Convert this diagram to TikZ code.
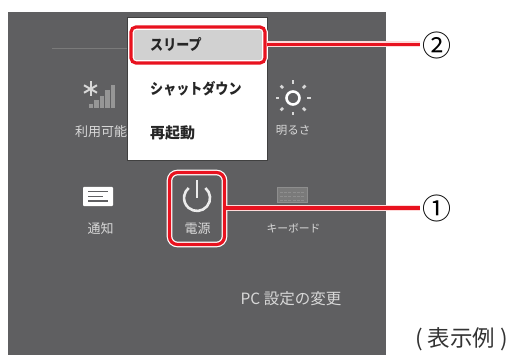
\documentclass[tikz,border=0pt]{standalone}
\usepackage{fontspec}
\setmainfont{Noto Sans CJK JP}
\definecolor{panel}{HTML}{5F5F61}
\definecolor{redc}{HTML}{E8121F}
\definecolor{soft}{HTML}{D8D8D8}
\definecolor{dimkey}{HTML}{7A7A7A}
\definecolor{dimedge}{HTML}{8E8E8E}
\definecolor{dimbar}{HTML}{969696}
\newcommand{\narrowtxt}[1]{\scalebox{0.87}[1]{#1}}
\tikzset{
  lab/.style={text=soft,font=\fontsize{13}{13}\selectfont,inner sep=0pt},
  menutxt/.style={text=black!85,font=\fontsize{15}{15}\selectfont\bfseries,inner sep=0pt,anchor=west},
  callout/.style={draw=redc,line width=3.2pt,rounded corners=5pt,inner sep=0pt,preaction={draw=white,line width=5.6pt}},
  calloutline/.style={redc,line width=3.2pt,preaction={draw=red!15,line width=6pt}},
  numtxt/.style={text=black,font=\fontsize{29}{29}\selectfont,inner sep=0pt},
}
\begin{document}
\begin{tikzpicture}[x=1pt,y=-1pt]
\useasboundingbox (0,0) rectangle (513,355);
\fill[panel] (8,12) rectangle (386,355);
\draw[dimkey,line width=0.5pt] (52,48) -- (127,48);
% signal icon
\coordinate (star) at (90.5,89);
\foreach \a in {30,90,150}{\draw[soft,line width=2pt] (star) ++(\a:7.5pt) -- ++(\a+180:15pt);}
\foreach \x/\h in {91/4,96.5/8,102/12,107.5/18,113/23}{\fill[dimbar] (\x-2.2,108) rectangle (\x+2.2,108-\h);}
\node[lab] (l1) at (101,132) {利用可能};
% menu
\fill[white,draw=black!75,line width=1pt] (127,18) rectangle (267,161);
\node[minimum width=134pt,minimum height=34pt,fill=black!18,rounded corners=4pt,inner sep=0pt] (sleepbg) at (198,45) {};
\node[menutxt] (m1) at (150,45) {\narrowtxt{スリープ}};
\node[menutxt] (m2) at (150,89) {\narrowtxt{シャットダウン}};
\node[menutxt] (m3) at (150,133) {再起動};
\node[callout,minimum width=134pt,minimum height=36pt] (sleep) at (198,45) {};
% sun
\coordinate (sun) at (293,98);
\draw[white,line width=2.6pt] (sun) circle (6.5pt);
\foreach \a in {0,45,...,315}{\draw[soft,line width=2.8pt] (sun) ++(\a:14pt) -- ++(\a:3.5pt);}
\node[lab,font=\fontsize{11.5}{11.5}\selectfont] (l2) at (293,130) {明るさ};
% notify
\fill[white,rounded corners=0.8pt] (83,187) rectangle (113,206);
\foreach \y/\w in {191.5/20,196.5/15,201/20}{\fill[panel] (88,\y-0.9) rectangle (88+\w,\y+0.9);}
\node[lab] (l3) at (100.5,229) {通知};
% power
\draw[white!92!black,line width=2.6pt] (205.4,188) arc[start angle=50,end angle=-230,radius=13pt];
\draw[white!92!black,line width=2.4pt] (197,180.5) -- (197,198);
\node[lab] (l4) at (197.5,229) {電源};
\node[callout,minimum width=55pt,minimum height=72pt,rounded corners=8pt] (power) at (197,208.5) {};
% keyboard
\node[draw=dimedge,fill=dimkey,line width=1pt,minimum width=30pt,minimum height=15pt,inner sep=0pt] (kb) at (292.5,195.5) {};
\foreach \y in {192,196,200}{\draw[dimedge,line width=0.8pt,dash pattern=on 3pt off 1.2pt] (280,\y) -- (305,\y);}
\node[lab,font=\fontsize{10.8}{10.8}\selectfont] (l5) at (293.5,228) {キーボード};
\node[lab,font=\fontsize{15.5}{15.5}\selectfont] (pc) at (291,299) {PC 設定の変更};
% connectors
\coordinate (e2) at (420,44.5);
\coordinate (e1) at (420,208);
\draw[calloutline] (sleep.east |- e2) -- (e2);
\draw[calloutline] (power.east |- e1) -- (e1);
\node[numtxt] (n2) at (437,45) {②};
\node[numtxt] (n1) at (437,208) {①};
\node[inner sep=0pt,font=\fontsize{22.5}{22.5}\selectfont,text=black!80] (ex) at (461.5,339.5) {(\hspace{5pt}表示例\hspace{5pt})};
\end{tikzpicture}
\end{document}
